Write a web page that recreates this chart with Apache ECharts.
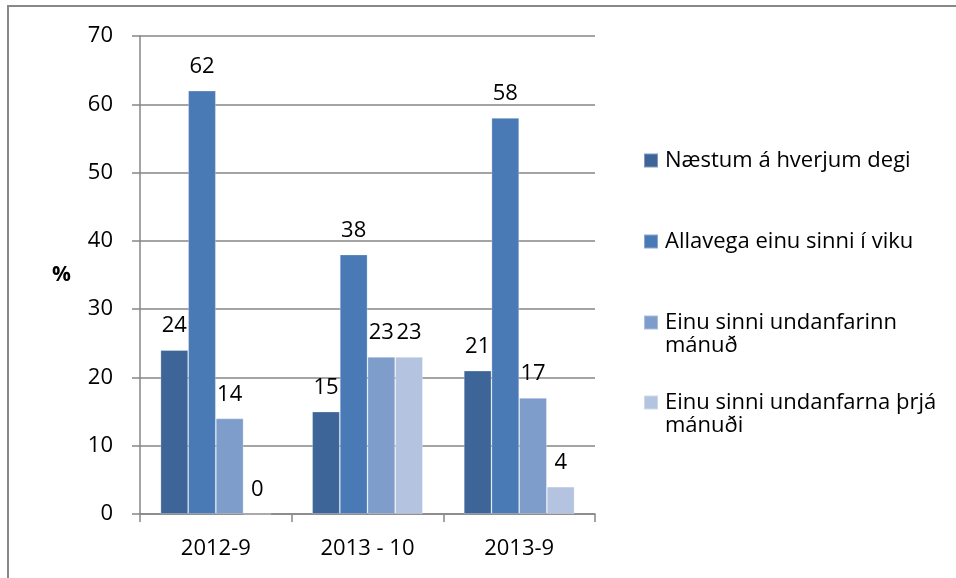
<!DOCTYPE html>
<html>
<head>
<meta charset="utf-8">
<script src="https://cdn.jsdelivr.net/npm/echarts@6/dist/echarts.min.js"></script>
<style>html,body{margin:0;padding:0;background:#fff;}#c{width:956px;height:578px;}</style>
</head>
<body>
<div id="c"></div>
<script>
const categories = ['2012-9', '2013 - 10', '2013-9'];
const seriesNames = ['Næstum á hverjum degi', 'Allavega einu sinni í viku', 'Einu sinni undanfarinn mánuð', 'Einu sinni undanfarna þrjá mánuði'];
const legendLines = [['Næstum á hverjum degi'], ['Allavega einu sinni í viku'], ['Einu sinni undanfarinn', 'mánuð'], ['Einu sinni undanfarna þrjá', 'mánuði']];
const s1 = [24, 15, 21];
const s2 = [62, 38, 58];
const s3 = [14, 23, 17];
const s4 = [0, 23, 4];
const yTicks = [0, 10, 20, 30, 40, 50, 60, 70];
const colors = ['#3D6598', '#4A7AB6', '#7E9DCA', '#B4C4E0'];

const FONT = 'Open Sans';
const FS = 22;
const chart = echarts.init(document.getElementById('c'), null, {renderer: 'canvas'});
const values = [s1, s2, s3, s4];
const legendTops = [144, 225, 283, 363];
const legends = seriesNames.map((n, i) => ({
  data: [n],
  left: 638,
  top: legendTops[i],
  orient: 'vertical',
  itemWidth: 14,
  itemHeight: 14,
  itemGap: 8,
  icon: 'rect',
  formatter: () => legendLines[i].length > 1 ? '\n' + legendLines[i].join('\n') : legendLines[i][0],
  textStyle: {fontFamily: FONT, fontSize: FS, lineHeight: 23, color: '#000', padding: [0, 0, 0, 2]},
  selectedMode: false
}));
chart.setOption({
  animation: false,
  backgroundColor: '#fff',
  legend: legends,
  grid: {left: 140, right: 361, top: 36, bottom: 64},
  xAxis: {
    type: 'category',
    data: categories,
    axisLine: {show: true, lineStyle: {color: '#868686', width: 1.5}},
    axisTick: {show: true, length: 8, lineStyle: {color: '#868686', width: 1.5}},
    axisLabel: {fontFamily: FONT, fontSize: FS, color: '#000', margin: 24}
  },
  yAxis: {
    type: 'value',
    min: yTicks[0], max: yTicks[yTicks.length - 1], interval: 10,
    name: '%',
    nameLocation: 'middle',
    nameRotate: 0,
    nameGap: 69,
    nameTextStyle: {fontFamily: FONT, fontSize: 21, fontWeight: 'bold', color: '#000', padding: [0, 0, -8, 0]},
    axisLine: {show: true, lineStyle: {color: '#868686', width: 1.5}},
    axisTick: {show: true, length: 8, lineStyle: {color: '#868686', width: 1.5}},
    splitLine: {show: true, lineStyle: {color: '#868686', width: 1.5}},
    axisLabel: {fontFamily: FONT, fontSize: FS, color: '#000', margin: 27}
  },
  graphic: [{
    type: 'rect', shape: {x: 8, y: 6, width: 1000, height: 700},
    style: {fill: 'none', stroke: '#888', lineWidth: 2}, silent: true, z: -1
  }],
  series: seriesNames.map((n, i) => ({
    name: n,
    type: 'bar',
    data: values[i],
    barGap: '0%',
    barCategoryGap: '27%',
    itemStyle: {color: colors[i], borderColor: 'rgba(255,255,255,0.35)', borderWidth: 0.8},
    label: {show: true, position: 'top', distance: 13, fontFamily: FONT, fontSize: FS, color: '#000'}
  }))
});
</script>
</body>
</html>
